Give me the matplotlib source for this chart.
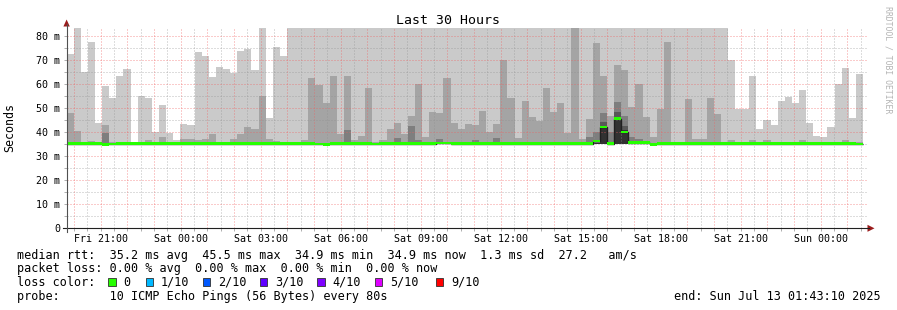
import datetime as dt

import matplotlib
matplotlib.use("Agg")
import matplotlib.pyplot as plt
import matplotlib.dates as mdates
from matplotlib.lines import Line2D
from matplotlib.patches import Polygon, Rectangle
from matplotlib.ticker import MultipleLocator, FuncFormatter

plt.rcParams['font.family'] = ['DejaVu Sans Mono']

W, H = 897, 310

# time range of the graph and the rrd bucket length (12 x 80 s)
start = dt.datetime(2025, 7, 11, 19, 43, 10)
end = dt.datetime(2025, 7, 13, 1, 43, 10)
step = dt.timedelta(seconds=960)

# smoke layers (ms): outer pair top .. inner pair top, one value per bucket
smoke_max = [
    72.5, 88.0, 64.7, 77.1, 43.5, 58.9, 53.9, 63.0, 66.3, 35.5, 54.7, 54.2, 40.0, 51.1, 39.5, 36.5,
    43.1, 42.7, 73.0, 71.3, 62.6, 67.1, 65.9, 64.4, 73.4, 74.6, 65.5, 88.0, 45.8, 75.4, 71.3, 88.0,
    88.0, 88.0, 88.0, 88.0, 88.0, 88.0, 88.0, 88.0, 88.0, 88.0, 88.0, 88.0, 88.0, 88.0, 88.0, 88.0,
    88.0, 88.0, 88.0, 88.0, 88.0, 88.0, 88.0, 88.0, 88.0, 88.0, 88.0, 88.0, 88.0, 88.0, 88.0, 88.0,
    88.0, 88.0, 88.0, 88.0, 88.0, 88.0, 88.0, 88.0, 88.0, 88.0, 88.0, 88.0, 88.0, 88.0, 88.0, 88.0,
    88.0, 88.0, 88.0, 88.0, 88.0, 88.0, 88.0, 88.0, 88.0, 88.0, 88.0, 88.0, 88.0, 70.0, 49.7, 49.7,
    63.0, 41.0, 44.8, 42.7, 53.0, 54.3, 51.8, 57.2, 43.5, 38.5, 38.0, 41.9, 59.7, 66.7, 45.6, 64.2,
]
smoke_p2 = [
    47.8, 40.2, 35.8, 36.1, 35.3, 42.8, 36.0, 36.0, 35.8, 35.3, 35.6, 36.5, 35.5, 37.9, 35.5, 35.5,
    36.9, 37.0, 36.5, 36.9, 39.2, 35.8, 36.0, 37.0, 39.0, 42.0, 41.2, 54.7, 37.2, 36.2, 35.8, 36.0,
    36.0, 36.5, 62.2, 59.3, 51.9, 63.4, 39.0, 63.4, 36.5, 38.5, 58.3, 36.0, 36.5, 41.4, 43.9, 39.0,
    46.4, 59.7, 38.0, 48.1, 47.7, 62.2, 43.5, 41.4, 43.1, 42.7, 48.5, 40.0, 43.1, 70.0, 53.9, 37.3,
    53.0, 46.0, 44.4, 58.3, 48.1, 51.8, 39.5, 88.0, 37.0, 45.2, 76.7, 63.4, 46.5, 67.6, 65.5, 50.2,
    59.7, 46.0, 38.0, 49.7, 77.1, 36.0, 36.0, 53.5, 37.0, 37.0, 53.9, 47.3, 36.0, 36.5, 36.0, 35.8,
    36.5, 35.5, 36.5, 35.8, 35.8, 36.0, 35.8, 36.5, 35.8, 35.5, 35.5, 35.8, 36.0, 36.5, 35.8, 36.0,
]
smoke_p3 = [
    35.2, 35.2, 35.2, 35.2, 35.2, 39.7, 35.2, 35.2, 35.2, 35.2, 35.2, 35.2, 35.2, 35.2, 35.2, 35.2,
    35.2, 35.2, 35.2, 35.2, 35.2, 35.2, 35.2, 35.2, 35.2, 35.2, 35.2, 35.2, 35.2, 35.2, 35.2, 35.2,
    35.2, 35.2, 35.2, 35.2, 35.2, 35.2, 35.2, 40.6, 35.2, 35.2, 35.2, 35.2, 35.2, 35.2, 37.3, 35.2,
    42.6, 36.5, 35.2, 35.2, 37.0, 35.2, 35.2, 35.2, 35.2, 36.5, 35.2, 35.2, 37.3, 35.2, 35.2, 35.2,
    35.2, 35.2, 35.2, 35.2, 35.2, 35.2, 35.2, 35.2, 35.2, 38.0, 40.0, 47.7, 40.0, 52.2, 46.8, 38.0,
    37.0, 35.2, 35.2, 35.2, 35.2, 35.2, 35.2, 35.2, 35.2, 35.2, 35.2, 35.2, 35.2, 35.2, 35.2, 35.2,
    35.2, 35.2, 35.2, 35.2, 35.2, 35.2, 35.2, 35.2, 35.2, 35.2, 35.2, 35.2, 35.2, 35.2, 35.2, 35.2,
]
smoke_p4 = [
    35.2, 35.2, 35.2, 35.2, 35.2, 35.2, 35.2, 35.2, 35.2, 35.2, 35.2, 35.2, 35.2, 35.2, 35.2, 35.2,
    35.2, 35.2, 35.2, 35.2, 35.2, 35.2, 35.2, 35.2, 35.2, 35.2, 35.2, 35.2, 35.2, 35.2, 35.2, 35.2,
    35.2, 35.2, 35.2, 35.2, 35.2, 35.2, 35.2, 35.2, 35.2, 35.2, 35.2, 35.2, 35.2, 35.2, 35.2, 35.2,
    35.2, 35.2, 35.2, 35.2, 35.2, 35.2, 35.2, 35.2, 35.2, 35.2, 35.2, 35.2, 35.2, 35.2, 35.2, 35.2,
    35.2, 35.2, 35.2, 35.2, 35.2, 35.2, 35.2, 35.2, 35.2, 35.2, 35.2, 44.0, 35.2, 48.1, 42.5, 35.2,
    35.2, 35.2, 35.2, 35.2, 35.2, 35.2, 35.2, 35.2, 35.2, 35.2, 35.2, 35.2, 35.2, 35.2, 35.2, 35.2,
    35.2, 35.2, 35.2, 35.2, 35.2, 35.2, 35.2, 35.2, 35.2, 35.2, 35.2, 35.2, 35.2, 35.2, 35.2, 35.2,
]
smoke_p5 = [
    35.2, 35.2, 35.2, 35.2, 35.2, 35.2, 35.2, 35.2, 35.2, 35.2, 35.2, 35.2, 35.2, 35.2, 35.2, 35.2,
    35.2, 35.2, 35.2, 35.2, 35.2, 35.2, 35.2, 35.2, 35.2, 35.2, 35.2, 35.2, 35.2, 35.2, 35.2, 35.2,
    35.2, 35.2, 35.2, 35.2, 35.2, 35.2, 35.2, 35.2, 35.2, 35.2, 35.2, 35.2, 35.2, 35.2, 35.2, 35.2,
    35.2, 35.2, 35.2, 35.2, 35.2, 35.2, 35.2, 35.2, 35.2, 35.2, 35.2, 35.2, 35.2, 35.2, 35.2, 35.2,
    35.2, 35.2, 35.2, 35.2, 35.2, 35.2, 35.2, 35.2, 35.2, 35.2, 35.2, 42.6, 35.2, 46.0, 40.6, 35.2,
    35.2, 35.2, 35.2, 35.2, 35.2, 35.2, 35.2, 35.2, 35.2, 35.2, 35.2, 35.2, 35.2, 35.2, 35.2, 35.2,
    35.2, 35.2, 35.2, 35.2, 35.2, 35.2, 35.2, 35.2, 35.2, 35.2, 35.2, 35.2, 35.2, 35.2, 35.2, 35.2,
]
smoke_floor = 34.8

median = [
    35.1, 35.1, 35.1, 35.1, 35.1, 34.8, 34.9, 35.1, 35.1, 35.1, 35.1, 35.1, 35.1, 35.1, 35.1, 35.1,
    35.1, 35.1, 35.1, 35.1, 35.1, 35.1, 35.1, 35.1, 35.1, 35.1, 35.1, 35.1, 35.1, 35.1, 35.1, 35.1,
    35.1, 35.1, 35.1, 34.9, 34.8, 35.1, 35.1, 35.1, 35.1, 35.1, 35.1, 34.9, 35.1, 35.1, 35.1, 35.1,
    35.1, 35.1, 35.1, 35.1, 35.3, 35.3, 35.1, 35.1, 35.1, 35.1, 35.1, 35.1, 35.1, 35.1, 35.1, 35.1,
    35.1, 35.1, 35.1, 35.1, 35.1, 35.1, 35.1, 35.1, 35.1, 35.1, 36.3, 42.0, 35.1, 45.5, 40.0, 35.6,
    35.6, 35.6, 34.8, 35.1, 35.1, 35.1, 35.1, 35.1, 35.1, 35.1, 35.1, 35.1, 35.1, 35.1, 35.1, 35.1,
    35.1, 35.1, 35.1, 35.1, 35.1, 35.1, 35.1, 35.1, 35.1, 35.1, 35.1, 35.1, 35.1, 35.1, 35.1, 34.9,
]

smoke_colors = ['#cacaca', '#a4a4a4', '#7e7e7e', '#585858', '#323232']
loss_labels = ['0', '1/10', '2/10', '3/10', '4/10', '5/10', '9/10']
loss_colors = ['#26ff00', '#00b8ff', '#0059ff', '#5e00ff', '#7e00ff', '#dd00ff', '#ff0000']

legend_lines = [
    'median rtt:  35.2 ms avg  45.5 ms max  34.9 ms min  34.9 ms now  1.3 ms sd  27.2   am/s',
    'packet loss: 0.00 % avg  0.00 % max  0.00 % min  0.00 % now',
    'loss color:',
    'probe:       10 ICMP Echo Pings (56 Bytes) every 80s',
]
end_text = 'end: Sun Jul 13 01:43:10 2025'


def fx(x):
    return x / W


def fy(y):
    return 1 - y / H


# plot area in pixels
X0, X1 = 66.6, 866.6
Y0, Y1 = 228.3, 28.0
PX_PER_MS = 2.41

fig = plt.figure(figsize=(W / 100, H / 100), dpi=100)
ax = fig.add_axes([fx(X0), fy(Y0), (X1 - X0) / W, (Y0 - Y1) / H])

edges = mdates.date2num([start + step * i for i in range(len(median) + 1)])

for top, color in zip([smoke_max, smoke_p2, smoke_p3, smoke_p4, smoke_p5], smoke_colors):
    ax.stairs(top, edges, baseline=smoke_floor, fill=True, color=color, lw=0, zorder=1)

# median: dark line, then loss-coloured band around it
ax.stairs(median, edges, baseline=None, color='#202020', lw=1, zorder=3)
band_lo = [m - 0.52 for m in median]
band_hi = [m + 0.52 for m in median]
ax.stairs(band_hi, edges, baseline=band_lo, fill=True, color=loss_colors[0], lw=0, zorder=3.5)

ax.set_xlim(mdates.date2num(start), mdates.date2num(end))
ax.set_ylim(0, (Y0 - Y1) / PX_PER_MS)

ax.xaxis.set_major_locator(mdates.HourLocator())
ax.xaxis.set_minor_locator(mdates.MinuteLocator(byminute=[30]))


def time_label(v, pos):
    d = mdates.num2date(v)
    return d.strftime('%a %H:%M') if d.hour % 3 == 0 else ''


ax.xaxis.set_major_formatter(FuncFormatter(time_label))
ax.yaxis.set_major_locator(MultipleLocator(10))
ax.yaxis.set_minor_locator(MultipleLocator(5))
ax.yaxis.set_major_formatter(FuncFormatter(lambda v, p: '0' if v == 0 else '%d m' % v))

ax.set_axisbelow(False)
ax.grid(which='major', color='#f06060', alpha=0.65, linestyle=(0, (1, 2)), linewidth=0.72)
ax.grid(which='minor', color='#909090', alpha=0.6, linestyle=(0, (1, 2)), linewidth=0.72)
ax.tick_params(which='both', length=2.2, width=0.72, color='#b0b0b0',
               labelsize=7.2, labelcolor='black')
ax.tick_params(axis='y', pad=2.4)
ax.tick_params(axis='x', pad=1.6)
for s in ax.spines.values():
    s.set_visible(False)

# axis lines with arrows
fig.add_artist(Line2D([fx(62.5), fx(869)], [fy(Y0), fy(Y0)], color='#202020', lw=0.8))
fig.add_artist(Line2D([fx(X0), fx(X0)], [fy(231.5), fy(24)], color='#505050', lw=0.8))
fig.add_artist(Polygon([(fx(63.4), fy(26.5)), (fx(69.8), fy(26.5)), (fx(X0), fy(19.5))],
                       closed=True, color='#9b1c1c', lw=0))
fig.add_artist(Polygon([(fx(867.5), fy(224.8)), (fx(867.5), fy(231.8)), (fx(874.5), fy(Y0))],
                       closed=True, color='#9b1c1c', lw=0))

fig.text(fx(447.5), fy(20), 'Last 30 Hours', ha='center', va='center', fontsize=9.5)
fig.text(fx(10), fy(127), 'Seconds', rotation=90, ha='center', va='center', fontsize=8.4)
fig.text(fx(888), fy(60), 'RRDTOOL / TOBI OETIKER', rotation=270, ha='center', va='center',
         fontsize=5.9, color='#b4b4b4')

for text, y in zip(legend_lines, [255, 268.3, 282.3, 296.7]):
    fig.text(fx(16.7), fy(y), text, ha='left', va='center', fontsize=8.45)
fig.text(fx(880.5), fy(297), end_text, ha='right', va='center', fontsize=8.45)

box_x = [108.3, 145.7, 202.7, 260.0, 317.3, 375.0, 436.0]
for bx, label, color in zip(box_x, loss_labels, loss_colors):
    fig.add_artist(Rectangle((fx(bx), fy(286.3)), 7.3 / W, 8.2 / H, transform=fig.transFigure,
                             facecolor=color, edgecolor='#303030', lw=0.6))
    fig.text(fx(bx + 15.2), fy(282.3), label, ha='left', va='center', fontsize=8.45)

fig.savefig('out.png', dpi=100)
